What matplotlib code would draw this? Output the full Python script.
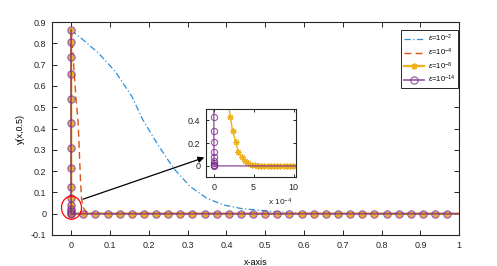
import matplotlib
matplotlib.use('Agg')
import matplotlib.pyplot as plt
import numpy as np
from matplotlib.patches import Ellipse

plt.rcParams['font.family'] = ['Liberation Sans', 'DejaVu Sans']
plt.rcParams['mathtext.fontset'] = 'custom'
plt.rcParams['mathtext.rm'] = 'Liberation Sans'
plt.rcParams['mathtext.it'] = 'Liberation Sans:italic'

# eps = 1e-2 (smooth profile)
x_e2 = [0.0, 0.035, 0.071, 0.114, 0.157, 0.183, 0.221, 0.264, 0.307, 0.350, 0.393, 0.436, 0.479,
        0.53, 0.58, 0.65, 1.0]
y_e2 = [0.862, 0.81, 0.753, 0.667, 0.549, 0.447, 0.331, 0.213, 0.127, 0.072, 0.041, 0.025, 0.017,
        0.009, 0.004, 0.0, 0.0]

# eps = 1e-4 (thin layer)
x_e4 = [0.0, 0.003, 0.008, 0.013, 0.018, 0.021, 0.024, 0.027, 0.032, 0.040, 0.050, 1.0]
y_e4 = [0.862, 0.81, 0.66, 0.53, 0.43, 0.30, 0.16, 0.07, 0.025, 0.008, 0.0, 0.0]

# boundary layer values shared by eps = 1e-8 and eps = 1e-14
y_layer = [0.862, 0.808, 0.737, 0.654, 0.537, 0.427, 0.309, 0.213, 0.125, 0.075, 0.043, 0.024, 0.012, 0.005, 0.0]
# x positions inside the layer, in units of 1e-4
xu_e8 = [0.0, 0.9, 1.3, 1.6, 1.85, 2.1, 2.36, 2.74, 3.07, 3.49, 3.91, 4.33, 4.75, 5.15, 5.55]
xu_e8_tail = [5.95, 6.35, 6.75, 7.15, 7.55, 7.95, 8.35, 8.75, 9.15, 9.55, 9.95, 10.35]
xu_e14 = [0.0, 0.004, 0.008, 0.012, 0.016, 0.020, 0.024, 0.028, 0.032, 0.036, 0.040, 0.044, 0.048, 0.052, 0.056]
# outer mesh (uniform, h = 1/32)
x_outer = np.arange(1, 33) / 32.0

x_e8 = np.concatenate([np.array(xu_e8) * 1e-4, np.array(xu_e8_tail) * 1e-4, x_outer])
y_e8 = np.concatenate([y_layer, np.zeros(len(xu_e8_tail)), np.zeros(len(x_outer))])
x_e14 = np.concatenate([np.array(xu_e14) * 1e-4, x_outer])
y_e14 = np.concatenate([y_layer, np.zeros(len(x_outer))])

labels = [r'$\epsilon$=10$^{-2}$', r'$\epsilon$=10$^{-4}$', r'$\epsilon$=10$^{-8}$', r'$\epsilon$=10$^{-14}$']
c_blue = '#2f8fd8'
c_orange = '#D95319'
c_yellow = '#EDB120'
c_purple = '#7E2F8E'
ast = (8, 2, 0)

fig = plt.figure(figsize=(4.97, 2.66), dpi=100)
ax = fig.add_axes([51.7 / 497, 31 / 266, 407.6 / 497, 213 / 266])

ax.plot(x_e2, y_e2, color=c_blue, ls=(0, (5, 2, 1, 2)), lw=0.9, label=labels[0])
ax.plot(x_e4, y_e4, color=c_orange, ls=(0, (5, 3)), lw=1.0, label=labels[1])
ax.plot(x_e8, y_e8, color=c_yellow, lw=1.6, marker=ast, ms=4.5, mew=0.9,
        markevery=list(range(len(x_e8) - 1)), label=labels[2])
ax.plot(x_e14, y_e14, color=c_purple, lw=1.3, alpha=0.75, marker='o', ms=5.2, mew=0.9,
        mfc='none', markevery=list(range(len(x_e14) - 1)), label=labels[3])

ax.set_xlim(-0.05, 1)
ax.set_ylim(-0.1, 0.9)
ax.set_xticks(np.arange(0, 1.01, 0.1))
ax.set_xticklabels(['0', '0.1', '0.2', '0.3', '0.4', '0.5', '0.6', '0.7', '0.8', '0.9', '1'])
ax.set_yticks(np.arange(-0.1, 0.91, 0.1))
ax.set_yticklabels(['-0.1', '0', '0.1', '0.2', '0.3', '0.4', '0.5', '0.6', '0.7', '0.8', '0.9'])
ax.tick_params(direction='in', length=3.5, width=0.7, labelsize=6.5, top=True, right=True,
               colors='#262626', pad=4)
for s in ax.spines.values():
    s.set_color('#262626')
    s.set_linewidth(0.8)
ax.set_xlabel('x-axis', fontsize=6.5, labelpad=6)
ax.set_ylabel('y(x,0.5)', fontsize=6.5, labelpad=4)

leg = ax.legend(loc='upper right', bbox_to_anchor=(0.9975, 0.962), borderaxespad=0,
                fontsize=5.5, handlelength=2.6, handletextpad=0.5, frameon=True, fancybox=False,
                edgecolor='#262626', framealpha=1, labelspacing=0.3, borderpad=0.4)
leg.get_frame().set_linewidth(0.7)

# red circle + arrow to zoomed view
ax.add_patch(Ellipse((0.001, 0.028), 0.0515, 0.108, fill=False, ec='red', lw=0.9, zorder=5))
ax.annotate('', xy=(0.35, 0.268), xytext=(0.024, 0.064),
            arrowprops=dict(arrowstyle='-|>', color='black', lw=0.9, mutation_scale=9), zorder=6)

# inset
ins = fig.add_axes([205.7 / 497, 88.7 / 266, 90.3 / 497, 68.3 / 266])
ins.plot(np.array(xu_e8 + xu_e8_tail), y_layer + [0.0] * len(xu_e8_tail), color=c_yellow, lw=1.0,
         marker=ast, ms=4.5, mew=0.8)
ins.plot(np.concatenate([xu_e14, [312.5]]), y_layer + [0.0], color=c_purple, lw=1.0, alpha=0.8,
         marker='o', ms=4.5, mew=0.8, mfc='none', markevery=list(range(len(xu_e14))))
ins.set_xlim(-1, 10.3)
ins.set_ylim(-0.1, 0.5)
ins.set_xticks([0, 5, 10])
ins.set_yticks([0, 0.2, 0.4])
ins.set_yticklabels(['0', '0.2', '0.4'])
ins.tick_params(direction='in', length=2.5, width=0.7, labelsize=6.5, top=True, right=True,
                colors='#262626', pad=4)
for s in ins.spines.values():
    s.set_color('#262626')
    s.set_linewidth(0.8)
ins.text(0.96, -0.36, r'x 10$^{-4}$', transform=ins.transAxes, ha='right', va='center',
         fontsize=6, color='#262626')

fig.savefig('out.png', dpi=100)
